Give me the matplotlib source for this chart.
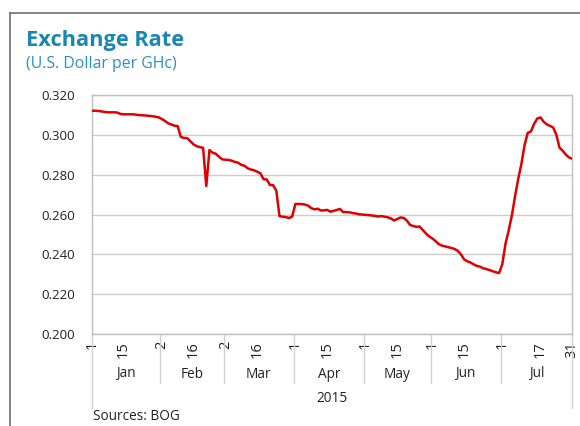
import matplotlib
matplotlib.use("Agg")
import matplotlib.pyplot as plt
from matplotlib.lines import Line2D
import pandas as pd

# daily (business day) rate, U.S. Dollar per GHc
jan = [.3121, .3121, .3120, .3118, .3115, .3113, .3113, .3113, .3112, .3105, .3103,
       .3103, .3103, .3103, .3101, .3099, .3098, .3097, .3095, .3094, .3091, .3088]
feb = [.3080, .3070, .3058, .3052, .3046, .3044, .2990, .2984, .2983, .2968,
       .2952, .2943, .2938, .2935, .2743, .2924, .2910, .2905, .2890, .2877]
mar = [.2875, .2874, .2870, .2864, .2860, .2849, .2845, .2832, .2826, .2822, .2815,
       .2807, .2777, .2776, .2748, .2747, .2720, .2592, .2589, .2587, .2582, .2590]
apr = [.2653, .2653, .2652, .2650, .2644, .2632, .2626, .2629, .2620, .2621, .2623,
       .2614, .2618, .2623, .2628, .2612, .2612, .2611, .2607, .2605, .2601, .2600]
may = [.2598, .2597, .2595, .2593, .2590, .2592, .2589, .2586, .2580, .2570, .2577,
       .2585, .2583, .2570, .2548, .2542, .2538, .2540, .2522, .2505, .2490]
jun = [.2480, .2467, .2452, .2444, .2440, .2436, .2432, .2427, .2418, .2400, .2375,
       .2365, .2359, .2350, .2342, .2338, .2330, .2326, .2321, .2315, .2310, .2306]
jul = [.2350, .2452, .2519, .2594, .2690, .2778, .2853, .2948, .3010, .3017, .3055,
       .3082, .3087, .3066, .3052, .3045, .3037, .3000, .2935, .2920, .2900, .2886, .2880]

months = ["Jan", "Feb", "Mar", "Apr", "May", "Jun", "Jul"]
tick_dates = ["2015-01-01", "2015-01-15", "2015-02-02", "2015-02-16", "2015-03-02",
              "2015-03-16", "2015-04-01", "2015-04-15", "2015-05-01", "2015-05-15",
              "2015-06-01", "2015-06-15", "2015-07-01", "2015-07-17", "2015-07-31"]

rate = jan + feb + mar + apr + may + jun + jul
dates = pd.bdate_range("2015-01-01", "2015-07-31")
x = list(range(len(dates)))

plt.rcParams['font.family'] = ['Open Sans', 'DejaVu Sans']
fig = plt.figure(figsize=(5.8, 4.26), dpi=100)
W, H = 580.0, 426.0
ax = fig.add_axes([91.7 / W, 1 - 334 / H, (572.3 - 91.7) / W, (334 - 95) / H])

ax.plot(x, rate, color="#e00000", lw=1.8, solid_joinstyle="round", zorder=3)
ax.set_xlim(0, len(dates) - 1)
ax.set_ylim(0.2, 0.32)
ax.set_yticks([0.2 + 0.02 * k for k in range(7)])
ax.set_yticklabels([f"{0.2 + 0.02 * k:.3f}" for k in range(7)], fontsize=9.5, color="#222222")
ax.grid(axis="y", color="#cccccc", lw=1)
ax.set_axisbelow(True)
for s in ax.spines.values():
    s.set_color("#bfbfbf")
    s.set_linewidth(1)
ax.tick_params(axis="y", length=0, pad=12)

# day labels, rotated
pos = dates.get_indexer(pd.to_datetime(tick_dates))
ax.set_xticks(pos)
ax.set_xticklabels([str(pd.Timestamp(d).day) for d in tick_dates], rotation=90,
                   fontsize=10.5, color="#222222", va="top", ha="center")
ax.tick_params(axis="x", length=0, pad=5)

# month groups and separators
trans = ax.get_xaxis_transform()
bounds = [0]
for m in range(2, 8):
    first = dates.get_indexer([dates[dates.month == m][0]])[0]
    bounds.append(first - 0.5)
bounds.append(len(dates) - 1)
y_month = -(383 - 334) / (334 - 95)
y_year = -(408 - 334) / (334 - 95)
for i, b in enumerate(bounds):
    yb = y_year if i in (0, len(bounds) - 1) else y_month
    ax.add_line(Line2D([b, b], [0, yb], transform=trans, color="#d0d0d0",
                       lw=1, clip_on=False))
for i, m in enumerate(months):
    ax.text((bounds[i] + bounds[i + 1]) / 2, -(374 - 334) / (334 - 95), m,
            transform=trans, ha="center", va="center", fontsize=9.8, color="#222222")
ax.text((bounds[0] + bounds[-1]) / 2, -(399 - 334) / (334 - 95), "2015",
        transform=trans, ha="center", va="center", fontsize=9.8, color="#222222")

# titles and source
fig.text(26 / W, 1 - 46 / H, "Exchange Rate", fontsize=15.7, fontweight="bold",
         color="#1a86b3", ha="left", va="baseline")
fig.text(26 / W, 1 - 68 / H, "(U.S. Dollar per GHc)", fontsize=11.4, color="#2a90c4",
         ha="left", va="baseline")
fig.text(93 / W, 1 - 417 / H, "Sources: BOG", fontsize=9.8, color="#222222",
         ha="left", va="center")

# outer frame (top and left edges visible)
fig.add_artist(Line2D([10 / W, 1.0], [1 - 13 / H, 1 - 13 / H], transform=fig.transFigure,
                      color="#707070", lw=1.2))
fig.add_artist(Line2D([10 / W, 10 / W], [0, 1 - 13 / H], transform=fig.transFigure,
                      color="#707070", lw=1.2))

fig.savefig("out.png", dpi=100)
